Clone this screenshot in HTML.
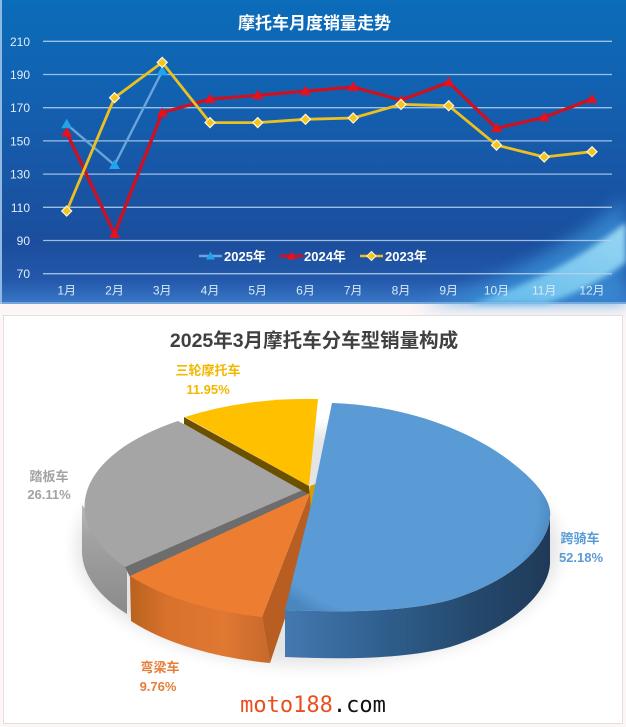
<!DOCTYPE html>
<html><head><meta charset="utf-8">
<style>
html,body{margin:0;padding:0;background:#fcf6f6;}
svg{display:block;}
text{font-family:"Liberation Sans","Noto Sans CJK SC",sans-serif;}
.mono{font-family:"DejaVu Sans Mono","Liberation Mono",monospace;}
</style></head><body>
<svg width="626" height="727" viewBox="0 0 626 727" xmlns="http://www.w3.org/2000/svg">
<defs>
<linearGradient id="bg" x1="0" y1="0" x2="0" y2="1">
<stop offset="0" stop-color="#0b6cb9"/>
<stop offset="0.25" stop-color="#1063b2"/>
<stop offset="0.55" stop-color="#1857a7"/>
<stop offset="0.8" stop-color="#1b4e9d"/>
<stop offset="0.92" stop-color="#2358aa"/>
<stop offset="1" stop-color="#3a78c6"/>
</linearGradient>
<linearGradient id="sw" x1="0" y1="1" x2="1" y2="0">
<stop offset="0" stop-color="#62bcec"/>
<stop offset="1" stop-color="#a0dcf7"/>
</linearGradient>
<filter id="b8" x="-20%" y="-20%" width="140%" height="140%"><feGaussianBlur stdDeviation="8"/></filter>
<filter id="b5" x="-20%" y="-20%" width="140%" height="140%"><feGaussianBlur stdDeviation="5"/></filter>
<filter id="b3" x="-20%" y="-20%" width="140%" height="140%"><feGaussianBlur stdDeviation="3"/></filter>
<linearGradient id="gSide" x1="0" y1="0" x2="0" y2="1">
<stop offset="0" stop-color="#b8b8b8"/>
<stop offset="0.3" stop-color="#a2a2a2"/>
<stop offset="1" stop-color="#8a8a8a"/>
</linearGradient>
<linearGradient id="oSide" x1="130" y1="0" x2="275" y2="0" gradientUnits="userSpaceOnUse">
<stop offset="0" stop-color="#b9621f"/>
<stop offset="0.25" stop-color="#d8712c"/>
<stop offset="0.65" stop-color="#e07832"/>
<stop offset="1" stop-color="#c4672a"/>
</linearGradient>
<linearGradient id="bSide" x1="285" y1="0" x2="550" y2="0" gradientUnits="userSpaceOnUse">
<stop offset="0" stop-color="#4479b0"/>
<stop offset="0.35" stop-color="#30608f"/>
<stop offset="0.7" stop-color="#25496e"/>
<stop offset="1" stop-color="#1f3a58"/>
</linearGradient>
<radialGradient id="bTop" cx="0.42" cy="0.5" r="0.6">
<stop offset="0.88" stop-color="#5b9bd5"/>
<stop offset="1" stop-color="#4a86c0"/>
</radialGradient>
</defs>

<!-- TOP CHART -->
<rect x="0" y="0" width="626" height="304" fill="url(#bg)"/>
<path d="M420,304 C500,282 570,245 626,198 L626,304 Z" fill="#3a92d8" opacity="0.75" filter="url(#b8)"/>
<path d="M470,304 C540,282 592,250 626,222 L626,262 C600,282 570,296 545,304 Z" fill="url(#sw)" opacity="0.95" filter="url(#b3)"/>
<rect x="0" y="0" width="2" height="304" fill="#8fb8e2"/>
<rect x="0" y="302" width="626" height="2" fill="#9cc6ea" opacity="0.6"/>

<text x="314.5" y="29" text-anchor="middle" fill="#ffffff" font-size="17" font-weight="bold">摩托车月度销量走势</text>

<g stroke="#b5d2ee" stroke-width="1.3" opacity="0.85">
<line x1="43" y1="41.3" x2="612" y2="41.3"/>
<line x1="43" y1="74.5" x2="612" y2="74.5"/>
<line x1="43" y1="107.7" x2="612" y2="107.7"/>
<line x1="43" y1="140.9" x2="612" y2="140.9"/>
<line x1="43" y1="174.1" x2="612" y2="174.1"/>
<line x1="43" y1="207.3" x2="612" y2="207.3"/>
<line x1="43" y1="240.5" x2="612" y2="240.5"/>
<line x1="43" y1="273.7" x2="612" y2="273.7"/>
</g>
<g fill="#e2edf8" font-size="12" text-anchor="end">
<text x="30" y="45.8">210</text>
<text x="30" y="79">190</text>
<text x="30" y="112.2">170</text>
<text x="30" y="145.4">150</text>
<text x="30" y="178.6">130</text>
<text x="30" y="211.8">110</text>
<text x="30" y="245">90</text>
<text x="30" y="278.2">70</text>
</g>
<g fill="#dbe8f6" font-size="12" text-anchor="middle">
<text x="66.7" y="294.5">1月</text>
<text x="114.5" y="294.5">2月</text>
<text x="162.2" y="294.5">3月</text>
<text x="210" y="294.5">4月</text>
<text x="257.7" y="294.5">5月</text>
<text x="305.5" y="294.5">6月</text>
<text x="353.2" y="294.5">7月</text>
<text x="401" y="294.5">8月</text>
<text x="448.7" y="294.5">9月</text>
<text x="496.5" y="294.5">10月</text>
<text x="544.2" y="294.5">11月</text>
<text x="592" y="294.5">12月</text>
</g>

<!-- 2025 -->
<polyline points="66.7,124.3 114.5,165 162.2,71.2" fill="none" stroke="#6aa4dc" stroke-width="2.4" stroke-linejoin="round"/>
<g fill="#22a4ea">
<path d="M66.7,118.8 L72.2,128.3 L61.2,128.3Z"/>
<path d="M114.5,159.5 L120,169 L109,169Z"/>
<path d="M162.2,65.7 L167.7,75.2 L156.7,75.2Z"/>
</g>
<!-- 2024 -->
<polyline points="66.7,132.6 114.5,233.9 162.2,112.7 210,99.1 257.7,95.3 305.5,91.1 353.2,87 401,100.2 448.7,82.3 496.5,128.3 544.2,117.3 592,99.1" fill="none" stroke="#cc1222" stroke-width="3.3" stroke-linejoin="round"/>
<g fill="#e8101c">
<path d="M66.7,127.1 L72.2,136.6 L61.2,136.6Z"/>
<path d="M114.5,228.4 L120,237.9 L109,237.9Z"/>
<path d="M162.2,107.2 L167.7,116.7 L156.7,116.7Z"/>
<path d="M210,93.6 L215.5,103.1 L204.5,103.1Z"/>
<path d="M257.7,89.8 L263.2,99.3 L252.2,99.3Z"/>
<path d="M305.5,85.6 L311,95.1 L300,95.1Z"/>
<path d="M353.2,81.5 L358.7,91 L347.7,91Z"/>
<path d="M401,94.7 L406.5,104.2 L395.5,104.2Z"/>
<path d="M448.7,76.8 L454.2,86.3 L443.2,86.3Z"/>
<path d="M496.5,122.8 L502,132.3 L491,132.3Z"/>
<path d="M544.2,111.8 L549.7,121.3 L538.7,121.3Z"/>
<path d="M592,93.6 L597.5,103.1 L586.5,103.1Z"/>
</g>
<!-- 2023 -->
<polyline points="66.7,211 114.5,97.7 162.2,62.4 210,122.6 257.7,122.6 305.5,119.3 353.2,118 401,104.4 448.7,105.7 496.5,145.1 544.2,157 592,151.7" fill="none" stroke="#ecc020" stroke-width="2.8" stroke-linejoin="round"/>
<g fill="#f4c51c" stroke="#fff6d8" stroke-width="1.2">
<path d="M66.7,206 L71.7,211 L66.7,216 L61.7,211Z"/>
<path d="M114.5,92.7 L119.5,97.7 L114.5,102.7 L109.5,97.7Z"/>
<path d="M162.2,57.4 L167.2,62.4 L162.2,67.4 L157.2,62.4Z"/>
<path d="M210,117.6 L215,122.6 L210,127.6 L205,122.6Z"/>
<path d="M257.7,117.6 L262.7,122.6 L257.7,127.6 L252.7,122.6Z"/>
<path d="M305.5,114.3 L310.5,119.3 L305.5,124.3 L300.5,119.3Z"/>
<path d="M353.2,113 L358.2,118 L353.2,123 L348.2,118Z"/>
<path d="M401,99.4 L406,104.4 L401,109.4 L396,104.4Z"/>
<path d="M448.7,100.7 L453.7,105.7 L448.7,110.7 L443.7,105.7Z"/>
<path d="M496.5,140.1 L501.5,145.1 L496.5,150.1 L491.5,145.1Z"/>
<path d="M544.2,152 L549.2,157 L544.2,162 L539.2,157Z"/>
<path d="M592,146.7 L597,151.7 L592,156.7 L587,151.7Z"/>
</g>

<!-- legend -->
<line x1="199" y1="256" x2="222" y2="256" stroke="#6aa4dc" stroke-width="2.4"/>
<path d="M210.5,251.5 L215,259.5 L206,259.5Z" fill="#22a4ea"/>
<text x="224" y="261" fill="#ffffff" font-size="13" font-weight="bold">2025年</text>
<line x1="280" y1="256" x2="303" y2="256" stroke="#cc1222" stroke-width="3"/>
<path d="M291.5,251.5 L296,259.5 L287,259.5Z" fill="#e8101c"/>
<text x="304" y="261" fill="#ffffff" font-size="13" font-weight="bold">2024年</text>
<line x1="360" y1="256" x2="383" y2="256" stroke="#ecc020" stroke-width="2.6"/>
<path d="M371.5,251.5 L376,256 L371.5,260.5 L367,256Z" fill="#f4c51c" stroke="#fff6d8" stroke-width="1"/>
<text x="385" y="261" fill="#ffffff" font-size="13" font-weight="bold">2023年</text>

<!-- PIE PANEL -->
<rect x="3.5" y="315.5" width="619" height="408" fill="#ffffff" stroke="#e6dede" stroke-width="1"/>
<text x="314" y="347" text-anchor="middle" fill="#404040" font-size="19.5" font-weight="bold">2025年3月摩托车分车型销量构成</text>

<ellipse cx="318" cy="548" rx="242" ry="118" fill="#000" opacity="0.1" filter="url(#b8)"/>

<!-- gray -->
<path d="M82,505 L82,553 A218,104 0 0 0 127,614 L127,560 Z" fill="url(#gSide)"/>
<path d="M305,489 L178,421 A218,104 0 0 0 127,568 Z" fill="#a5a5a5"/>
<polygon points="305,489 125,567 130,577 310,494" fill="#6d6d6d"/>
<!-- yellow -->
<polygon points="184,417 309,486 310,495 184,424" fill="#6b5000"/>
<path d="M309,486 L185,417 A218,104 0 0 1 318,399 Z" fill="#ffc000"/>
<polygon points="310,486 315,484 314,528 309,530" fill="#d6a000"/>
<!-- orange -->
<polygon points="310,493 262,617 270,663 312,538" fill="#b85e22"/>
<path d="M130,576 L131,621 A225,108 0 0 0 270,663 L262,617 Z" fill="url(#oSide)"/>
<path d="M310,493 L130,576 A225,108 0 0 0 262,617 Z" fill="#ed7d31"/>
<!-- blue -->
<path d="M550,517 C548,545 515,580 450,600 C410,611 350,613 285,610 L285,657 C350,660 410,658 450,647 C515,627 548,592 550,564 Z" fill="url(#bSide)"/>
<path d="M332,403 C400,405 470,428 515,465 C540,485 552,503 550,517 C548,545 515,580 450,600 C410,611 350,613 285,610 L311,505 Z" fill="url(#bTop)"/>

<!-- labels -->
<g font-size="13" font-weight="bold" text-anchor="middle">
<text x="208" y="375" fill="#f2b800">三轮摩托车</text>
<text x="208" y="394" fill="#f2b800">11.95%</text>
<text x="49" y="481" fill="#a3a3a3">踏板车</text>
<text x="49" y="499" fill="#a3a3a3">26.11%</text>
<text x="580" y="543" fill="#5b9bd5">跨骑车</text>
<text x="581" y="562" fill="#5b9bd5">52.18%</text>
<text x="160" y="672" fill="#e67e3a">弯梁车</text>
<text x="158" y="691" fill="#e67e3a">9.76%</text>
</g>
<text class="mono" x="313" y="712" text-anchor="middle" font-size="22"><tspan fill="#e8501e">moto188</tspan><tspan fill="#111111">.com</tspan></text>
</svg>
</body></html>
